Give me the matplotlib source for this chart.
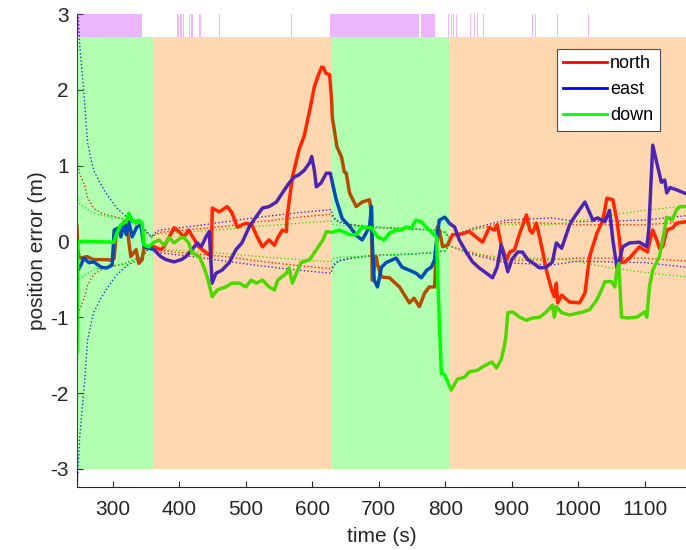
import matplotlib
matplotlib.use("Agg")
import matplotlib.pyplot as plt
from matplotlib.lines import Line2D
import numpy as np

plt.rcParams['font.family'] = ['Liberation Sans', 'DejaVu Sans']
plt.rcParams['axes.unicode_minus'] = False

# position error of the filter, metres
t_north = [246, 247, 249, 252, 261, 271, 291, 299, 302, 305, 312, 317, 321, 327, 335, 339, 344, 347,
           354, 362, 372, 377, 392, 397, 407, 414, 429, 445, 448, 449.5, 460, 472, 479, 487, 500, 509,
           517, 525, 535, 543, 548, 555, 561, 562, 570, 580, 588, 596, 603, 608, 614, 617, 620, 626,
           629, 630, 637, 644, 648, 651, 656, 666, 675, 686, 689, 690, 696, 698, 704, 716, 731, 746,
           753, 761, 769, 776, 784, 785, 788, 791, 796, 803, 811, 821, 836, 856, 866, 874, 878, 884,
           892, 897, 904, 912, 922, 927, 931, 937, 945, 952, 960, 964, 967, 969, 975, 987, 1002, 1010,
           1017, 1028, 1037, 1043, 1052, 1058, 1062, 1065, 1070, 1077, 1092, 1104, 1107, 1112, 1118,
           1122, 1127, 1133, 1142, 1148, 1162]
north = [0.20, -0.10, -0.20, -0.22, -0.20, -0.24, -0.24, -0.25, -0.22, 0.10, 0.15, 0.26, 0.20, -0.20,
         -0.11, -0.29, -0.24, -0.07, -0.07, -0.07, -0.11, -0.07, 0.18, 0.15, 0.06, 0.15, -0.07, -0.18,
         -0.20, 0.44, 0.39, 0.46, 0.38, 0.19, 0.24, 0.22, 0.06, -0.07, 0.02, -0.05, 0.05, 0.15, 0.13,
         0.32, 0.85, 1.21, 1.40, 1.73, 2.04, 2.17, 2.30, 2.29, 2.22, 2.20, 1.87, 1.64, 1.25, 1.11, 0.92,
         0.90, 0.64, 0.46, 0.52, 0.55, 0.37, -0.51, -0.20, -0.30, -0.47, -0.48, -0.60, -0.81, -0.75,
         -0.86, -0.68, -0.60, -0.60, -0.38, 0.19, 0.15, -0.07, -0.05, 0.09, 0.09, 0.13, -0.01, 0.18,
         0.15, 0.22, -0.05, -0.24, -0.14, -0.11, 0.11, 0.35, 0.15, 0.11, 0.24, -0.07, -0.38, -0.64,
         -0.73, -0.55, -0.81, -0.71, -0.80, -0.81, -0.68, -0.20, 0.11, 0.28, 0.57, 0.55, 0.28, 0.02,
         -0.28, -0.27, -0.22, -0.07, -0.14, -0.02, 0.15, 0.02, -0.09, -0.07, 0.15, 0.18, 0.24, 0.26]

t_east = [246, 252, 256.5, 264, 271.6, 282, 291, 299, 302, 309, 312, 317, 320, 324, 329, 336, 342, 347,
          362, 372, 380, 392, 403, 410, 419, 427, 433, 440, 445, 448, 449.3, 455, 464, 475, 485, 494,
          505, 515, 525, 535, 546, 555, 565, 573, 580, 588, 596, 599, 603, 606, 613, 621, 627, 632,
          636, 645, 656, 666, 675, 686, 689, 690, 693, 698, 704, 711, 726, 735, 746, 756, 764, 772,
          779, 784, 787, 791, 799, 803, 806, 814, 821, 832, 841, 851, 862, 871, 878, 884, 889, 894,
          900, 909, 916, 924, 931, 942, 952, 961, 967, 975, 987, 994, 1010, 1017, 1022, 1029, 1040,
          1047, 1052, 1058, 1062, 1067, 1077, 1092, 1103, 1106, 1112, 1118, 1125, 1130, 1133, 1138,
          1148, 1162]
east = [-0.40, -0.31, -0.22, -0.28, -0.27, -0.34, -0.35, -0.31, 0.15, 0.18, 0.06, 0.24, 0.09, 0.26,
        0.06, 0.19, 0.22, -0.07, -0.11, -0.20, -0.24, -0.27, -0.24, -0.20, -0.11, -0.02, -0.07, 0.06,
        0.13, -0.34, -0.55, -0.42, -0.38, -0.28, -0.11, -0.02, 0.19, 0.32, 0.44, 0.46, 0.52, 0.64,
        0.77, 0.85, 0.88, 0.94, 1.04, 1.12, 0.94, 0.72, 0.77, 0.90, 0.90, 0.70, 0.55, 0.30, 0.20,
        0.08, 0.02, 0.19, 0.46, 0.02, -0.51, -0.60, -0.34, -0.28, -0.22, -0.34, -0.38, -0.42, -0.48,
        -0.38, -0.34, -0.24, 0.02, 0.28, 0.32, 0.28, 0.24, 0.19, 0.02, -0.15, -0.27, -0.35, -0.42,
        -0.48, -0.34, -0.05, -0.22, -0.40, -0.24, -0.14, -0.14, -0.24, -0.28, -0.35, -0.34, -0.27,
        -0.02, -0.09, 0.22, 0.32, 0.52, 0.38, 0.28, 0.31, 0.26, 0.41, 0.02, -0.34, -0.24, -0.07,
        -0.02, -0.01, -0.07, 0.15, 1.27, 1.04, 0.78, 0.81, 0.64, 0.71, 0.68, 0.63]

t_down = [246, 247, 260, 301.7, 305, 312, 320, 324, 329, 335, 339, 344, 347, 354, 362, 369.5, 377,
          384.6, 392, 402.6, 407, 414, 419, 430, 437, 442, 448, 449.3, 457, 470, 479, 490, 500, 508,
          516, 525, 535, 543, 548, 561, 565, 570, 576, 583, 596, 606, 616, 621, 629, 641, 656, 666,
          674, 681, 689, 698, 708, 716, 726, 734, 741, 749, 756, 764, 772, 781, 787, 788, 794, 799,
          801, 809, 818, 829, 836, 848, 859, 870, 877, 884, 889, 891, 894, 901, 912, 922, 931, 942,
          952, 961, 964, 967, 975, 987, 1007, 1017, 1028, 1035, 1040, 1050, 1055, 1058, 1061, 1065,
          1073, 1088, 1100, 1103, 1107, 1112, 1122, 1127, 1133, 1141, 1148, 1153, 1162]
down = [-1.46, 0.00, 0.00, -0.01, 0.09, 0.22, 0.26, 0.37, 0.28, 0.26, 0.28, 0.24, -0.05, -0.07, -0.01,
        0.02, -0.05, 0.05, -0.02, 0.05, 0.05, -0.02, -0.15, -0.20, -0.34, -0.47, -0.68, -0.73, -0.64,
        -0.60, -0.55, -0.55, -0.60, -0.51, -0.55, -0.51, -0.60, -0.64, -0.51, -0.42, -0.35, -0.55,
        -0.42, -0.28, -0.24, -0.11, 0.02, 0.13, 0.12, 0.15, 0.09, 0.09, 0.18, 0.19, 0.18, 0.06, 0.02,
        0.11, 0.15, 0.15, 0.19, 0.18, 0.28, 0.26, 0.18, 0.11, 0.05, -0.34, -1.74, -1.76, -1.80, -1.96,
        -1.82, -1.79, -1.72, -1.70, -1.64, -1.59, -1.67, -1.56, -1.37, -1.26, -0.94, -0.93, -1.00,
        -1.04, -1.01, -1.00, -0.93, -0.84, -1.00, -0.86, -0.94, -0.97, -0.93, -0.90, -0.77, -0.64,
        -0.53, -0.53, -0.60, -0.38, -0.29, -1.00, -1.01, -1.00, -0.93, -1.00, -0.60, -0.38, -0.20,
        0.02, 0.32, 0.28, 0.42, 0.46, 0.46]

# one-sigma bounds
t_sig = [246, 250, 257, 262, 268, 272, 282, 291, 306, 321, 342, 358, 362, 370, 420, 470, 520, 580,
         628, 632, 640, 660, 690, 740, 780, 800, 806, 812, 840, 890, 960, 1000, 1050, 1100, 1162]
sig_north = [1.05, 0.90, 0.75, 0.58, 0.48, 0.43, 0.38, 0.35, 0.32, 0.28, 0.20, 0.05, 0.08, 0.12, 0.16,
             0.20, 0.26, 0.32, 0.36, 0.30, 0.25, 0.22, 0.18, 0.17, 0.15, 0.12, 0.05, 0.08, 0.15, 0.25,
             0.24, 0.22, 0.22, 0.22, 0.26]
sig_east = [3.30, 2.60, 1.90, 1.30, 1.05, 0.92, 0.75, 0.62, 0.44, 0.32, 0.22, 0.06, 0.10, 0.15, 0.20,
            0.26, 0.32, 0.38, 0.42, 0.32, 0.26, 0.22, 0.19, 0.17, 0.15, 0.12, 0.05, 0.08, 0.17, 0.28,
            0.31, 0.26, 0.27, 0.28, 0.34]
sig_down = [0.60, 0.50, 0.45, 0.42, 0.39, 0.37, 0.35, 0.33, 0.31, 0.30, 0.18, 0.05, 0.08, 0.10, 0.13,
            0.16, 0.20, 0.24, 0.27, 0.22, 0.21, 0.20, 0.19, 0.17, 0.15, 0.12, 0.05, 0.08, 0.16, 0.22,
            0.22, 0.27, 0.35, 0.41, 0.47]

# navigation mode intervals
green_spans = [(246, 360), (630, 805)]
orange_spans = [(360, 630), (805, 1165)]
flag_spans = [(246, 344), (397, 399), (401, 404), (405, 407), (415, 416.5), (418, 420), (430, 432),
              (459, 461), (568, 569.5), (627, 760), (763, 784), (804, 806), (808, 809.5), (812, 813),
              (816, 817), (837, 839), (843, 845), (848, 849), (856, 858), (931, 932.5), (935, 936),
              (968, 969.5), (1014, 1016)]

RED, BLUE, GREEN = (1, 0, 0), (0, 0, 1), (0, 1, 0)
ORANGE, VIOLET = (1, 0.5, 0), (0.75, 0.05, 0.95)
DARK = (0.15, 0.15, 0.15)

fig = plt.figure(figsize=(6.86, 5.5), dpi=100)
ax = fig.add_axes([0.1122, 0.1145, 0.8878, 0.86])

dot = (0, (1, 1.6))
for s, col in [(sig_north, RED), (sig_east, BLUE), (sig_down, GREEN)]:
    s = np.array(s)
    ax.plot(t_sig, s, ls=dot, lw=1, color=col, zorder=1.5)
    ax.plot(t_sig, -s, ls=dot, lw=1, color=col, zorder=1.5)

ax.plot(t_north, north, color=RED, lw=2.5, zorder=2)
ax.plot(t_east, east, color=BLUE, lw=2.5, zorder=2)
ax.plot(t_down, down, color=GREEN, lw=2.5, zorder=2)

# translucent mode patches on top of the traces
for a, b in green_spans:
    ax.fill_between([a, b], -3, 2.7, color=GREEN, alpha=0.3, lw=0, zorder=3)
for a, b in orange_spans:
    ax.fill_between([a, b], -3, 2.7, color=ORANGE, alpha=0.3, lw=0, zorder=3)
for a, b in flag_spans:
    ax.fill_between([a, b], 2.7, 3, color=VIOLET, alpha=0.3, lw=0, zorder=3)

ax.set_xlim(246, 1162)
ax.set_ylim(-3.24, 3)
ax.set_xticks(range(300, 1101, 100))
ax.set_yticks(range(-3, 4))
ax.spines['top'].set_visible(False)
ax.spines['right'].set_visible(False)
for sp in ['left', 'bottom']:
    ax.spines[sp].set_color(DARK)
    ax.spines[sp].set_linewidth(0.8)
ax.tick_params(direction='in', length=4, width=0.8, colors=DARK, labelsize=15)
ax.tick_params(axis='x', pad=9)
ax.tick_params(axis='y', pad=6)
ax.set_xlabel('time (s)', fontsize=15, color=DARK, labelpad=6)
ax.set_ylabel('position error (m)', fontsize=15, color=DARK, labelpad=2)

handles = [Line2D([], [], color=RED, lw=2),
           Line2D([], [], color=BLUE, lw=2),
           Line2D([], [], color=GREEN, lw=2)]
leg = ax.legend(handles, ['north', 'east', 'down'], loc='upper left',
                bbox_to_anchor=(0.788, 0.926), borderaxespad=0, fontsize=13,
                handlelength=2.4, handletextpad=0.2, labelspacing=0.5, borderpad=0.35,
                fancybox=False, framealpha=1, edgecolor=(0.3, 0.3, 0.3))
leg.get_frame().set_linewidth(0.8)
leg.set_zorder(5)

fig.savefig('out.png', dpi=100)
